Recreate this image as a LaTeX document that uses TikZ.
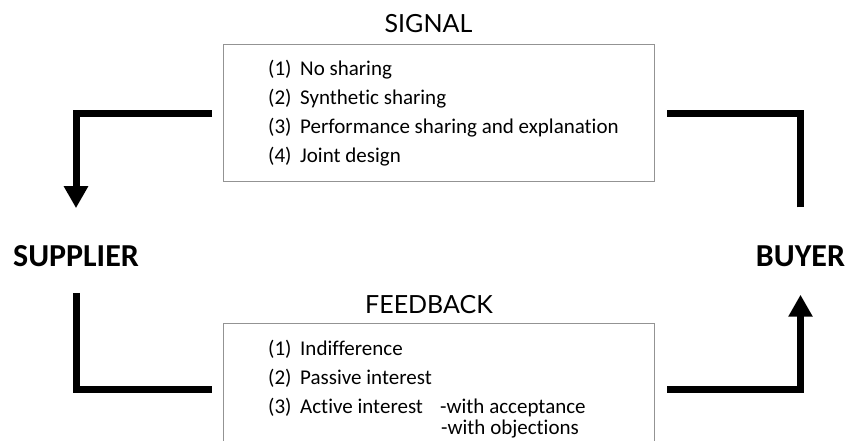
\documentclass[tikz,border=0pt]{standalone}
\usepackage{fontspec}
\setmainfont{Carlito}[Ligatures=NoCommon]
\newfontfamily\titlefont{Lato}
\usetikzlibrary{arrows.meta}
\begin{document}
\begin{tikzpicture}[x=1pt,y=-1pt,
  box/.style={draw=gray!85, line width=1pt, minimum width=431pt, inner sep=0pt, anchor=north west},
  item/.style={anchor=base west, inner sep=0pt, font=\fontsize{21}{25}\selectfont},
  title/.style={font=\titlefont\fontsize{25}{30}\selectfont, inner sep=0pt},
  party/.style={font=\bfseries\fontsize{32}{38}\selectfont, inner sep=0pt},
  conn/.style={line width=7pt, line cap=butt, line join=miter},
  tip/.style={-{Triangle[width=23pt,length=22pt]}}
]
\useasboundingbox (0,0) rectangle (846,440);

% boxes
\node[box, minimum height=137pt] (sig) at (223,44) {};
\node[box, minimum height=132pt] (fb) at (223,323) {};

% titles
\node[title] (sigt) at (428.5,24) {SIGNAL};
\node[title] (fbt) at (429,305) {FEEDBACK};

% parties
\node[party] (sup) at (76,256) {SUPPLIER};
\node[party] (buy) at (800.5,256) {BUYER};

% signal items
\node[item] (s1n) at (268,75) {(1)};
\node[item] (s1) at (300,75) {No sharing};
\node[item] (s2n) at (268,104) {(2)};
\node[item] (s2) at (300,104) {Synthetic sharing};
\node[item] (s3n) at (268,133) {(3)};
\node[item] (s3) at (300,133) {Performance sharing and explanation};
\node[item] (s4n) at (268,162) {(4)};
\node[item] (s4) at (300,162) {Joint design};

% feedback items
\node[item] (f1n) at (268,355) {(1)};
\node[item] (f1) at (300,355) {Indifference};
\node[item] (f2n) at (268,384) {(2)};
\node[item] (f2) at (300,384) {Passive interest};
\node[item] (f3n) at (268,413) {(3)};
\node[item] (f3) at (300,413) {Active interest};
\node[item] (f3a) at (440,413) {-with acceptance};
\node[item] (f3b) at (441,434) {-with objections};

% connectors
\draw[conn, tip, shorten >=37pt] ([xshift=-11pt]sig.west) -| (sup.north);
\draw[conn, shorten <=38pt] (buy.north) |- ([xshift=12pt]sig.east);
\draw[conn, shorten <=26pt] (sup.south) |- ([xshift=-11pt]fb.west);
\draw[conn, tip, shorten >=28pt] ([xshift=12pt]fb.east) -| (buy.south);
\end{tikzpicture}
\end{document}
